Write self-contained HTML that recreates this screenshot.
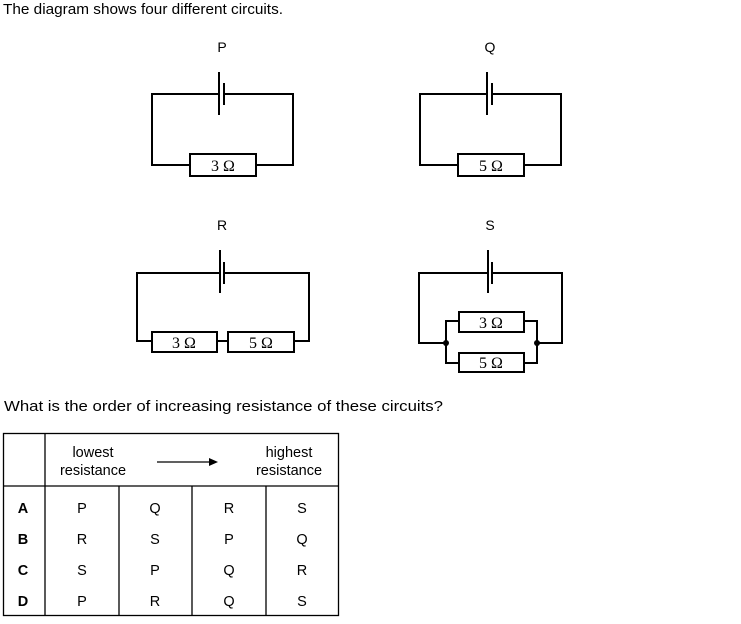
<!DOCTYPE html>
<html><head><meta charset="utf-8"><style>
body{margin:0;background:#fff;width:741px;height:624px;overflow:hidden}
svg{display:block}
text{font-family:"Liberation Sans",Arial,sans-serif;fill:#000}
.om{font-family:"Liberation Serif",serif;font-size:16px}
</style></head><body>
<svg width="741" height="624" viewBox="0 0 741 624" xmlns="http://www.w3.org/2000/svg">
<text x="3" y="14" font-size="15" textLength="280" lengthAdjust="spacingAndGlyphs">The diagram shows four different circuits.</text>
<g font-size="14" text-anchor="middle">
<text x="222" y="52">P</text><text x="490" y="52">Q</text>
<text x="222" y="230">R</text><text x="490" y="230">S</text>
</g>
<g stroke="#000" stroke-width="2" fill="none">
<polyline points="219,94 152,94 152,165 190,165"/>
<polyline points="224,94 293,94 293,165 256,165"/>
<line x1="219" y1="72" x2="219" y2="115"/><line x1="224" y1="83" x2="224" y2="105"/>
<rect x="190" y="154" width="66" height="22" fill="#fff"/>
<polyline points="487,94 420,94 420,165 458,165"/>
<polyline points="492,94 561,94 561,165 524,165"/>
<line x1="487" y1="72" x2="487" y2="115"/><line x1="492" y1="83" x2="492" y2="105"/>
<rect x="458" y="154" width="66" height="22" fill="#fff"/>
<polyline points="220,273 137,273 137,341 152,341"/>
<polyline points="224,273 309,273 309,341 294,341"/>
<line x1="217" y1="341" x2="228" y2="341"/>
<line x1="220" y1="250" x2="220" y2="293"/><line x1="224" y1="262" x2="224" y2="284"/>
<rect x="152" y="332" width="65" height="20" fill="#fff"/>
<rect x="228" y="332" width="66" height="20" fill="#fff"/>
<polyline points="488,273 419,273 419,343 446,343"/>
<polyline points="492,273 562,273 562,343 537,343"/>
<line x1="488" y1="250" x2="488" y2="293"/><line x1="492" y1="262" x2="492" y2="284"/>
<polyline points="459,321 446,321 446,363 459,363"/>
<polyline points="524,321 537,321 537,363 524,363"/>
<rect x="459" y="312" width="65" height="20" fill="#fff"/>
<rect x="459" y="353" width="65" height="19" fill="#fff"/>
</g>
<circle cx="446" cy="343" r="3"/><circle cx="537" cy="343" r="3"/>
<g text-anchor="middle">
<text class="om" x="223" y="171">3 Ω</text>
<text class="om" x="491" y="171">5 Ω</text>
<text class="om" x="184" y="348">3 Ω</text>
<text class="om" x="261" y="348">5 Ω</text>
<text class="om" x="491" y="328">3 Ω</text>
<text class="om" x="491" y="368">5 Ω</text>
</g>
<text x="4" y="411" font-size="15" textLength="439" lengthAdjust="spacingAndGlyphs">What is the order of increasing resistance of these circuits?</text>
<g stroke="#000" stroke-width="1.3" fill="none">
<rect x="3.5" y="433.5" width="335" height="182"/>
<line x1="3" y1="486" x2="339" y2="486"/>
<line x1="45" y1="433" x2="45" y2="616"/>
<line x1="119" y1="486" x2="119" y2="616"/>
<line x1="192" y1="486" x2="192" y2="616"/>
<line x1="266" y1="486" x2="266" y2="616"/>
<line x1="157" y1="462" x2="210" y2="462"/>
</g>
<polygon points="209,458 218,462 209,466"/>
<g font-size="14.5" text-anchor="middle">
<text x="93" y="457">lowest</text><text x="93" y="475">resistance</text>
<text x="289" y="457">highest</text><text x="289" y="475">resistance</text>
<g font-weight="bold"><text x="23" y="513">A</text><text x="23" y="544">B</text><text x="23" y="575">C</text><text x="23" y="606">D</text></g>
<text x="82" y="513">P</text><text x="155" y="513">Q</text><text x="229" y="513">R</text><text x="302" y="513">S</text>
<text x="82" y="544">R</text><text x="155" y="544">S</text><text x="229" y="544">P</text><text x="302" y="544">Q</text>
<text x="82" y="575">S</text><text x="155" y="575">P</text><text x="229" y="575">Q</text><text x="302" y="575">R</text>
<text x="82" y="606">P</text><text x="155" y="606">R</text><text x="229" y="606">Q</text><text x="302" y="606">S</text>
</g>
</svg>
</body></html>
